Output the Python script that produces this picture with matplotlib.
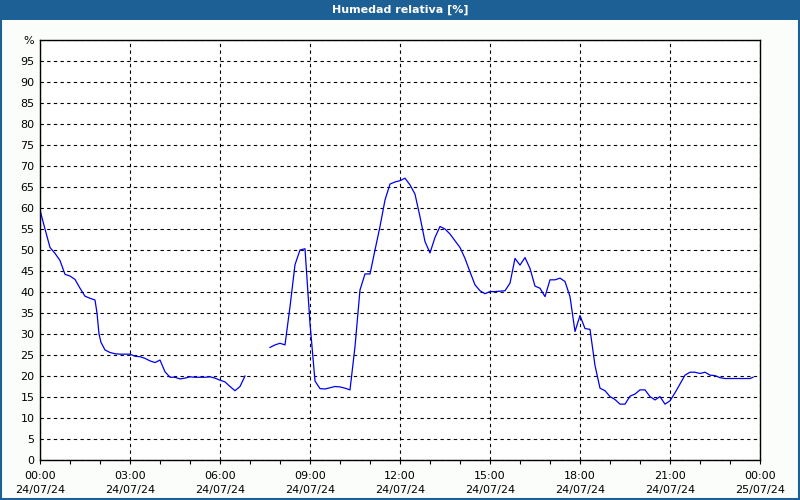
import numpy as np
import matplotlib.pyplot as plt
from matplotlib.ticker import MultipleLocator

# minutes since 24/07/24 00:00 and relative humidity (%)
minutes1 = [0, 10, 20, 30, 40, 50, 60, 70, 80, 90, 100, 110, 114, 118, 122, 130, 140, 150,
            160, 170, 180, 190, 200, 210, 220, 230, 240, 250, 260, 270, 280, 290, 300, 310,
            320, 330, 340, 350, 360, 370, 380, 390, 400, 410]
humidity1 = [59.5, 55, 50.6, 49.2, 47.5, 44.2, 43.8, 43, 40.9, 39, 38.5, 38.1, 35, 30, 28,
             26.2, 25.6, 25.3, 25.2, 25.2, 25.2, 24.7, 24.6, 24.2, 23.6, 23.2, 23.8, 21,
             19.7, 19.7, 19.3, 19.5, 19.8, 19.7, 19.7, 19.7, 19.8, 19.5, 19, 18.6, 17.5,
             16.5, 17.5, 20]

minutes2 = [460, 470, 480, 490, 500, 510, 520, 530, 540, 550, 560, 570, 580, 590, 600, 610,
            620, 630, 640, 650, 660, 670, 680, 690, 700, 710, 720, 730, 740, 750, 760, 770,
            780, 790, 800, 810, 820, 830, 840, 850, 860, 870, 880, 890, 900, 910, 920, 930,
            940, 950, 960, 970, 980, 990, 1000, 1010, 1020, 1030, 1040, 1050, 1060, 1070,
            1080, 1090, 1100, 1110, 1120, 1130, 1140, 1150, 1160, 1170, 1180, 1190, 1200,
            1210, 1220, 1230, 1240, 1250, 1260, 1270, 1280, 1290, 1300, 1310, 1320, 1330,
            1340, 1350, 1360, 1370, 1380, 1390, 1400, 1410, 1420, 1426]
humidity2 = [26.8, 27.4, 27.8, 27.4, 36.5, 46.5, 50.0, 50.3, 32.5, 18.8, 17, 16.9, 17.2,
             17.5, 17.4, 17.1, 16.7, 27, 40.5, 44.3, 44.3, 50, 55.6, 61.9, 65.7, 66.2, 66.5,
             67.1, 65.5, 63.3, 57.9, 52, 49.3, 53, 55.6, 55, 53.8, 52.2, 50.6, 48, 44.8,
             41.7, 40.3, 39.6, 40.1, 40.1, 40.2, 40.3, 42.1, 48, 46.4, 48.2, 45.6, 41.4,
             40.9, 38.9, 42.9, 42.9, 43.3, 42.5, 38.9, 30.6, 34.4, 31.3, 31.1, 22.5, 17.1,
             16.5, 15.1, 14.4, 13.3, 13.3, 15.2, 15.7, 16.7, 16.7, 15.1, 14.3, 15.1, 13.3,
             14.1, 16, 18.1, 20.2, 20.9, 20.9, 20.6, 20.9, 20.2, 20.1, 19.6, 19.4, 19.4,
             19.4, 19.4, 19.4, 19.4, 19.7]

hour_ticks = [0, 3, 6, 9, 12, 15, 18, 21, 24]
hour_labels = ["00:00\n24/07/24", "03:00\n24/07/24", "06:00\n24/07/24", "09:00\n24/07/24",
               "12:00\n24/07/24", "15:00\n24/07/24", "18:00\n24/07/24", "21:00\n24/07/24",
               "00:00\n25/07/24"]
y_ticks = list(range(0, 101, 5))
y_labels = [str(v) for v in range(0, 100, 5)] + ["%"]

plt.rcParams['font.family'] = ['DejaVu Sans']
fig = plt.figure(figsize=(8, 5), dpi=100, facecolor='#fbfdfb')

# title bar and frame
fig.patches.append(plt.Rectangle((0, 0.96), 1, 0.04, transform=fig.transFigure,
                                 facecolor='#1d6096', edgecolor='none'))
fig.patches.append(plt.Rectangle((0.001, 0.002), 0.998, 0.996, transform=fig.transFigure,
                                 facecolor='none', edgecolor='#1d6096', linewidth=1.5))
fig.text(0.5, 0.98, "Humedad relativa [%]", color='white', fontsize=8, fontweight='bold',
         ha='center', va='center')

ax = fig.add_axes([0.05, 0.08, 0.90, 0.84])
ax.set_facecolor('white')

t1 = np.array(minutes1) / 60
t2 = np.array(minutes2) / 60
ax.plot(t1, humidity1, color='#0000ee', linewidth=0.9)
ax.plot(t2, humidity2, color='#0000ee', linewidth=0.9)

ax.set_xlim(0, 24)
ax.set_ylim(0, 100)
ax.set_xticks(hour_ticks)
ax.set_xticklabels(hour_labels, fontsize=8, linespacing=1.45)
ax.xaxis.set_minor_locator(MultipleLocator(1))
ax.set_yticks(y_ticks)
ax.set_yticklabels(y_labels, fontsize=8)
ax.tick_params(axis='y', length=0, pad=4)
ax.tick_params(axis='x', which='both', direction='out', length=3, width=0.8, pad=5)

ax.grid(True, which='major', color='black', linestyle=(0, (3, 3)), linewidth=0.8)
for s in ax.spines.values():
    s.set_linewidth(1.0)

fig.savefig('out.png', dpi=100, facecolor=fig.get_facecolor())
